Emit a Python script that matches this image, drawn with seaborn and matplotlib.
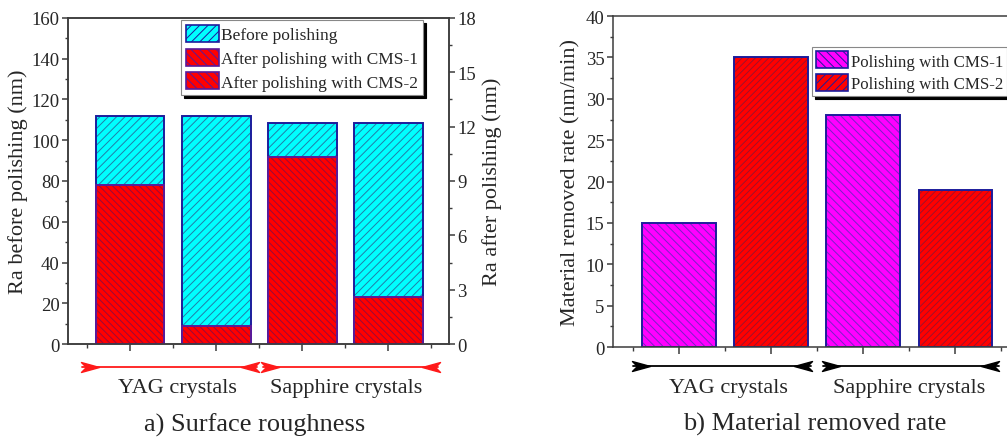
import numpy as np
import pandas as pd
import matplotlib
matplotlib.use("Agg")
import matplotlib.pyplot as plt
from matplotlib.patches import Patch
from matplotlib.path import Path
from matplotlib.ticker import MultipleLocator, FixedLocator, NullFormatter
import seaborn as sns

# ---- data ----
bars = ["YAG CMS-1", "YAG CMS-2", "Sapphire CMS-1", "Sapphire CMS-2"]
ra_before = [112, 112, 108.5, 108.5]          # nm, left axis
ra_after = [8.8, 1.0, 10.3, 2.6]              # nm, right axis
mrr_cms1 = [15, 28]                           # nm/min
mrr_cms2 = [35, 19]
groups = ["YAG crystals", "Sapphire crystals"]

sns.set_theme(style="white")
plt.rcParams["font.family"] = ["Liberation Serif", "DejaVu Serif"]
plt.rcParams["hatch.linewidth"] = 0.7

CYAN, RED, MAGENTA = "#00ffff", "#ff0000", "#ff00ff"
EDGE = "#1c1c9c"
SPINE = "#3c3c3c"
TICK_FS = 13.5
LABEL_FS = 16


def hatched_bars(ax, x, y, order, color, hatch, hatch_color, edge):
    df = pd.DataFrame({"x": x, "y": y})
    n0 = len(ax.patches)
    sns.barplot(data=df, x="x", y="y", order=order, color=color, width=0.8,
                saturation=1, ax=ax)
    for p in ax.patches[n0:]:
        p.set_hatch(hatch)
        p.set_edgecolor(hatch_color)
        p.set_linewidth(0)
    sns.barplot(data=df, x="x", y="y", order=order, color=edge, width=0.8,
                fill=False, linewidth=1.4, ax=ax)


def style_axes(ax, nbars):
    for s in ax.spines.values():
        s.set_color(SPINE)
        s.set_linewidth(1.1)
    ax.set_xlim(-0.72, nbars - 1 + 0.70)
    ax.xaxis.set_major_locator(FixedLocator(np.arange(nbars)))
    ax.xaxis.set_minor_locator(FixedLocator(np.arange(nbars + 1) - 0.5))
    ax.xaxis.set_major_formatter(NullFormatter())
    ax.tick_params(axis="x", which="major", bottom=True, length=5, width=1.1, color=SPINE)
    ax.tick_params(axis="x", which="minor", bottom=True, length=3, width=1.0, color=SPINE)
    ax.set_xlabel("")


def style_y(ax, side):
    kw = {side: True}
    ax.tick_params(axis="y", which="major", length=4.5, width=1.1, color=SPINE,
                   labelsize=TICK_FS, pad=1.5, **kw)
    ax.tick_params(axis="y", which="minor", length=2.5, width=1.0, color=SPINE, **kw)


# custom notched arrowhead marker, pointing right
arrow_path = Path([(-1, 0.55), (1, 0), (-1, -0.55), (-0.45, 0), (-1, 0.55)],
                  [Path.MOVETO, Path.LINETO, Path.LINETO, Path.LINETO, Path.CLOSEPOLY])
arrow_left = Path(arrow_path.vertices * [-1, 1], arrow_path.codes)


def bracket(ax, x0, x1, y, color):
    tr = ax.get_xaxis_transform()
    ax.plot([x0, x1], [y, y], color=color, lw=1.3, transform=tr, clip_on=False)
    ax.plot([x0 + 0.09], [y], marker=arrow_path, ms=13, color=color, mec=color,
            transform=tr, clip_on=False)
    ax.plot([x1 - 0.09], [y], marker=arrow_left, ms=13, color=color, mec=color,
            transform=tr, clip_on=False)


fig = plt.figure(figsize=(10.07, 4.39), dpi=100)

# ---- a) surface roughness ----
ax1 = fig.add_axes([0.0675, 0.214, 0.378, 0.743])
hatched_bars(ax1, bars, ra_before, bars, CYAN, "////", "#1f7fa8", EDGE)
ax1b = ax1.twinx()
hatched_bars(ax1b, bars, ra_after, bars, RED, "\\\\\\\\\\", "#9a0a3a", "#5a1a9a")
ax1.set_ylim(0, 160)
ax1b.set_ylim(0, 18)
ax1.yaxis.set_major_locator(MultipleLocator(20))
ax1.yaxis.set_minor_locator(MultipleLocator(10))
ax1b.yaxis.set_major_locator(MultipleLocator(3))
ax1b.yaxis.set_minor_locator(MultipleLocator(1.5))
for a in (ax1, ax1b):
    style_axes(a, len(bars))
style_y(ax1, "left")
style_y(ax1b, "right")
ax1b.tick_params(axis="x", which="both", bottom=False)
ax1.set_ylabel("Ra before polishing (nm)", fontsize=LABEL_FS)
ax1b.set_ylabel("Ra after polishing (nm)", fontsize=LABEL_FS)
ax1.yaxis.set_label_coords(-0.106, 0.5)
ax1b.yaxis.set_label_coords(1.087, 0.5)

handles1 = [Patch(facecolor=CYAN, edgecolor=EDGE, hatch="////", lw=1.2),
            Patch(facecolor=RED, edgecolor="#5a1a9a", hatch="\\\\\\\\", lw=1.2),
            Patch(facecolor=RED, edgecolor="#5a1a9a", hatch="\\\\\\\\", lw=1.2)]
labels1 = ["Before polishing", "After polishing with CMS-1", "After polishing with CMS-2"]
leg1 = ax1b.legend(handles1, labels1, loc="upper right", bbox_to_anchor=(0.932, 0.992),
                   borderaxespad=0, fontsize=12.5, frameon=True, fancybox=False,
                   shadow={"color": "black", "alpha": 1}, handlelength=1.9, handleheight=1.15,
                   handletextpad=0.15, labelspacing=0.3, borderpad=0.25)
leg1.get_frame().set_edgecolor("#888888")
leg1.get_frame().set_linewidth(0.8)

bracket(ax1, -0.56, 1.48, -0.07, "#ff1a1a")
bracket(ax1, 1.54, 3.58, -0.07, "#ff1a1a")
ax1.text(0.55, -0.132, groups[0], transform=ax1.get_xaxis_transform(), ha="center",
         va="center", fontsize=16)
ax1.text(2.51, -0.132, groups[1], transform=ax1.get_xaxis_transform(), ha="center",
         va="center", fontsize=16)

# ---- b) material removed rate ----
ax2 = fig.add_axes([0.6087, 0.207, 0.404, 0.754])
x_cms1 = [bars[0], bars[2]]
x_cms2 = [bars[1], bars[3]]
hatched_bars(ax2, x_cms1, mrr_cms1, bars, MAGENTA, "\\\\\\\\", "#7a20c8", EDGE)
hatched_bars(ax2, x_cms2, mrr_cms2, bars, RED, "/////", "#a0102a", EDGE)
ax2.set_ylim(0, 40)
ax2.yaxis.set_major_locator(MultipleLocator(5))
ax2.yaxis.set_minor_locator(MultipleLocator(2.5))
style_axes(ax2, len(bars))
style_y(ax2, "left")
ax2.set_ylabel("Material removed rate (nm/min)", fontsize=LABEL_FS)
ax2.yaxis.set_label_coords(-0.079, 0.5)

handles2 = [Patch(facecolor=MAGENTA, edgecolor=EDGE, hatch="\\\\\\\\", lw=1.2),
            Patch(facecolor=RED, edgecolor=EDGE, hatch="////", lw=1.2)]
labels2 = ["Polishing with CMS-1", "Polishing with CMS-2"]
leg2 = ax2.legend(handles2, labels2, loc="upper left", bbox_to_anchor=(0.489, 0.906),
                  borderaxespad=0, fontsize=12.2, frameon=True, fancybox=False,
                  shadow={"color": "black", "alpha": 1}, handlelength=1.9, handleheight=1.15,
                  handletextpad=0.15, labelspacing=0.25, borderpad=0.25)
leg2.get_frame().set_edgecolor("#888888")
leg2.get_frame().set_linewidth(0.8)

bracket(ax2, -0.50, 1.43, -0.057, "black")
bracket(ax2, 1.56, 3.47, -0.057, "black")
ax2.text(0.53, -0.121, groups[0], transform=ax2.get_xaxis_transform(), ha="center",
         va="center", fontsize=16)
ax2.text(2.50, -0.121, groups[1], transform=ax2.get_xaxis_transform(), ha="center",
         va="center", fontsize=16)

fig.text(0.253, 0.032, "a) Surface roughness", ha="center", va="center", fontsize=19)
fig.text(0.809, 0.032, "b) Material removed rate", ha="center", va="center", fontsize=19)

fig.savefig("out.png", dpi=100)
